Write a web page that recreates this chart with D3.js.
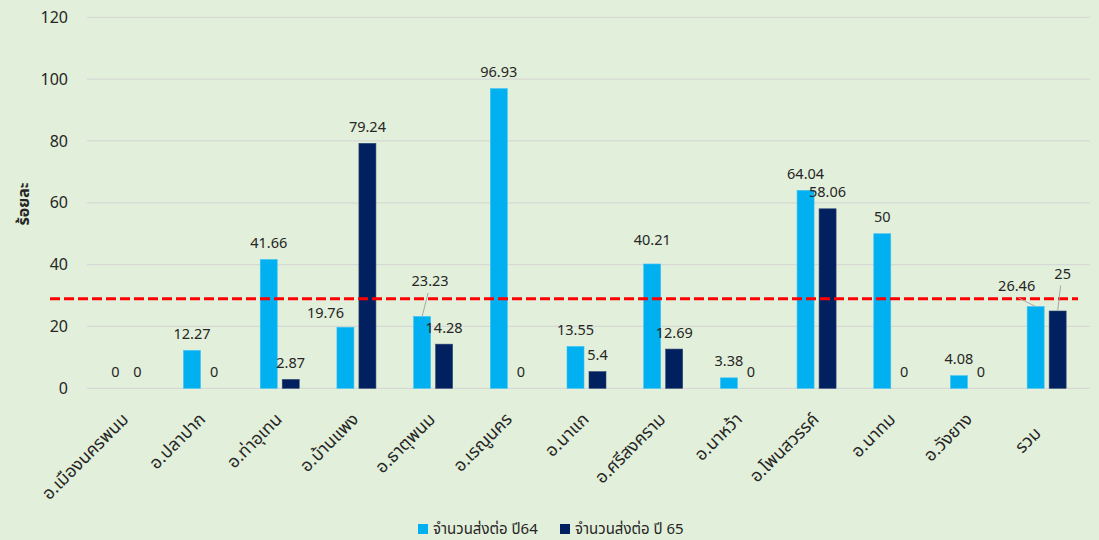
<!DOCTYPE html>
<html>
<head>
<meta charset="utf-8">
<script src="https://cdn.jsdelivr.net/npm/d3@7"></script>
<style>
  html, body { margin: 0; padding: 0; background: #e2efda; }
  svg { display: block; }
  text { font-family: "Noto Sans Thai", "Leelawadee UI", "Tahoma", "Noto Sans", "DejaVu Sans", sans-serif; fill: #262626; }
</style>
</head>
<body>
<svg id="chart" width="1099" height="540"></svg>
<script>
// ---- data ----
const categories = ["อ.เมืองนครพนม", "อ.ปลาปาก", "อ.ท่าอุเทน", "อ.บ้านแพง", "อ.ธาตุพนม", "อ.เรณูนคร", "อ.นาแก", "อ.ศรีสงคราม", "อ.นาหว้า", "อ.โพนสวรรค์", "อ.นาทม", "อ.วังยาง", "รวม"];
const series64 = [0, 12.27, 41.66, 19.76, 23.23, 96.93, 13.55, 40.21, 3.38, 64.04, 50, 4.08, 26.46];
const series65 = [0, 0, 2.87, 79.24, 14.28, 0, 5.4, 12.69, 0, 58.06, 0, 0, 25];
const seriesNames = ["จำนวนส่งต่อ ปี64", "จำนวนส่งต่อ ปี 65"];
const targetValue = 29;
const yTicks = [0, 20, 40, 60, 80, 100, 120];
const yTitle = "ร้อยละ";

// ---- layout / style (not data) ----
const colors = ["#00b0f0", "#002060"];
const plotLeft = 88, plotRight = 1085, plotTop = 17.3, plotBottom = 388.3;
// manual label adjustments (like moved labels in the original): key "series-index"
const labelAdjust = {
  "0-3": {dx: -20, dy: 2},
  "0-4": {dx: 8, dy: -19, leader: true},
  "0-7": {dx: 0, dy: -7},
  "0-12": {dx: -19, dy: -4, leader: true},
  "1-12": {dx: 5, dy: -21, leader: true}
};
// category label nudges (index -> [dx, dy])
const catLabelShift = {12: [-8, 14]};

const svg = d3.select("#chart");
svg.append("rect").attr("width", 1099).attr("height", 540).attr("fill", "#e2efda");

const x0 = d3.scaleBand().domain(categories).range([plotLeft, plotRight]).paddingInner(0).paddingOuter(0);
const groupW = 39;
const x1 = d3.scaleBand().domain([0, 1]).range([0, groupW]).paddingInner(0.227);
const y = d3.scaleLinear().domain([0, 120]).range([plotBottom, plotTop]);

// gridlines
svg.append("g").selectAll("line").data(yTicks).join("line")
  .attr("x1", plotLeft - 1).attr("x2", 1090)
  .attr("y1", d => y(d)).attr("y2", d => y(d))
  .attr("stroke", "#d6d9d6").attr("stroke-width", 1.2);

// y axis labels via d3 axis
const yAxis = d3.axisLeft(y).tickValues(yTicks).tickSize(0).tickPadding(0);
const yg = svg.append("g").attr("transform", `translate(68,0)`).call(yAxis);
yg.select(".domain").remove();
yg.selectAll("text").attr("font-size", 16).attr("fill", "#262626")
  .style("font-family", '"Noto Sans", "DejaVu Sans", sans-serif');

// y title
svg.append("text")
  .attr("transform", "translate(29,204) rotate(-90)")
  .attr("text-anchor", "middle")
  .attr("font-size", 16).attr("font-weight", "bold")
  .text(yTitle);

// bars
const allSeries = [series64, series65];
const groupOffset = (x0.bandwidth() - groupW) / 2;
const gBars = svg.append("g");
allSeries.forEach((vals, si) => {
  gBars.selectAll(".b" + si).data(vals).join("rect")
    .attr("class", "b" + si)
    .attr("x", (d, i) => x0(categories[i]) + groupOffset + x1(si))
    .attr("width", x1.bandwidth())
    .attr("y", d => y(d))
    .attr("height", d => y(0) - y(d))
    .attr("fill", colors[si])
    .attr("stroke", si === 0 ? "#3fc3f3" : "#33466f").attr("stroke-width", 0.6);
});

// target dashed line
svg.append("line")
  .attr("x1", 50).attr("x2", 1078)
  .attr("y1", y(targetValue)).attr("y2", y(targetValue))
  .attr("stroke", "#ff0000").attr("stroke-width", 3)
  .attr("stroke-dasharray", "10,4");

// data labels
const gLab = svg.append("g");
allSeries.forEach((vals, si) => {
  vals.forEach((v, i) => {
    const cx = x0(categories[i]) + groupOffset + x1(si) + x1.bandwidth() / 2;
    const topY = y(v);
    const adj = labelAdjust[si + "-" + i] || {dx: 0, dy: 0};
    const lx = cx + adj.dx;
    const ly = topY - 11.5 + adj.dy;
    if (adj.leader) {
      svg.append("line")
        .attr("x1", adj.dx < 0 ? lx + 2 : lx - 2)
        .attr("y1", ly + 7)
        .attr("x2", cx).attr("y2", topY)
        .attr("stroke", "#a6a6a6").attr("stroke-width", 1);
    }
    gLab.append("text")
      .attr("x", lx).attr("y", ly)
      .attr("text-anchor", "middle")
      .attr("font-size", 14.5)
      .style("font-family", '"Noto Sans", "DejaVu Sans", sans-serif')
      .text(v);
  });
});

// x labels rotated
svg.append("g").selectAll("text").data(categories).join("text")
  .attr("transform", (d, i) => {
    const s = catLabelShift[i] || [0, 0];
    return `translate(${x0(d) + x0.bandwidth() / 2 - 1 + s[0]},${416 + s[1]}) rotate(-45)`;
  })
  .attr("text-anchor", "end")
  .attr("dy", "0.35em")
  .attr("font-size", 17.5)
  .text(d => d);

// legend
const legX = [418, 560];
seriesNames.forEach((n, i) => {
  svg.append("rect").attr("x", legX[i]).attr("y", 524).attr("width", 10).attr("height", 10).attr("fill", colors[i]);
  svg.append("text").attr("x", legX[i] + 15).attr("y", 534).attr("font-size", 15).text(n);
});
</script>
</body>
</html>
